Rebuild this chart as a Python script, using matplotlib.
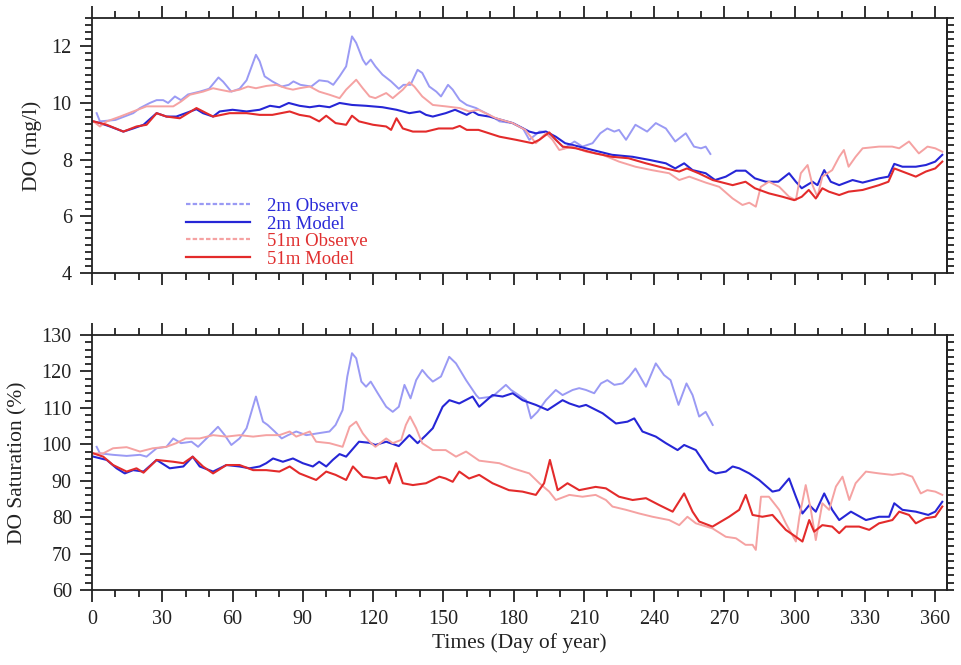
import numpy as np
import matplotlib
matplotlib.use("Agg")
import matplotlib.pyplot as plt
from matplotlib.lines import Line2D
from matplotlib.ticker import MultipleLocator, NullFormatter

plt.rcParams['font.family'] = ['Liberation Serif', 'DejaVu Serif']

# ---------------- DO concentration (mg/l) ----------------
do_obs2_day = [2, 3.4, 10, 17.6, 20.5, 24.7, 27.6, 30.4, 32.5, 35.4, 38, 41, 46, 50, 54, 56,
               59.5, 63, 66, 70, 71.6, 73.7, 77, 81, 84, 86, 89, 93.6, 97, 100.7, 103, 105.7,
               108.5, 111, 112.8, 115.6, 117, 119, 121, 124, 127.7, 131, 133, 136, 139, 141,
               144, 147, 149, 152, 154, 157, 160, 164, 165.3, 169.6, 174, 179.6, 184, 186.7,
               191, 193.8, 198, 201.6, 206, 209.4, 213.7, 217, 220, 223, 225, 228, 232, 237,
               240.7, 245, 249, 253.5, 257, 260, 262, 264]
do_obs2 = [9.64, 9.35, 9.4, 9.64, 9.82, 10.0, 10.1, 10.1, 10.0, 10.23, 10.1, 10.3, 10.4, 10.5,
           10.9, 10.75, 10.4, 10.5, 10.8, 11.7, 11.47, 10.94, 10.76, 10.58, 10.64, 10.76, 10.64,
           10.58, 10.8, 10.76, 10.64, 10.94, 11.29, 12.35, 12.12, 11.53, 11.35, 11.53, 11.29,
           11.0, 10.76, 10.5, 10.64, 10.64, 11.17, 11.06, 10.58, 10.4, 10.23, 10.64, 10.47,
           10.1, 9.93, 9.82, 9.76, 9.58, 9.35, 9.29, 9.1, 8.7, 8.99, 8.99, 8.7, 8.4, 8.64, 8.46,
           8.58, 8.93, 9.1, 8.99, 9.05, 8.7, 9.23, 8.99, 9.29, 9.1, 8.64, 8.93, 8.46, 8.4, 8.46,
           8.2]

do_mod2_day = [0.6, 3.4, 7.7, 13.4, 17.6, 22, 27.6, 31.8, 36, 40, 44.6, 47.4, 51.7, 54.5, 60,
               66, 71.6, 76, 80, 84, 88.6, 93, 97, 101.4, 105.7, 111, 117, 124, 130, 135.5, 140,
               142.6, 145.5, 151, 155, 160, 162.5, 165, 169.6, 179.6, 186.7, 189.5, 193.8, 198,
               202, 208, 213.7, 222, 230.8, 238, 245, 249, 252.8, 256.4, 262, 266, 270.6, 275,
               279, 283, 287.7, 293, 297.6, 300.5, 303, 307.6, 309.7, 312.6, 315.4, 319, 324.7,
               329, 336, 340, 342.5, 346, 351.7, 356, 360, 363]
do_mod2 = [9.35, 9.29, 9.17, 8.99, 9.1, 9.23, 9.64, 9.52, 9.52, 9.64, 9.78, 9.64, 9.52, 9.7,
           9.76, 9.7, 9.76, 9.9, 9.85, 10.0, 9.9, 9.85, 9.9, 9.85, 10.0, 9.93, 9.9, 9.85, 9.76,
           9.64, 9.7, 9.58, 9.52, 9.64, 9.76, 9.58, 9.7, 9.58, 9.52, 9.29, 8.99, 8.93, 8.99,
           8.81, 8.58, 8.46, 8.34, 8.17, 8.1, 7.99, 7.87, 7.69, 7.87, 7.63, 7.52, 7.28, 7.4,
           7.61, 7.61, 7.34, 7.22, 7.22, 7.52, 7.22, 6.99, 7.22, 7.1, 7.63, 7.22, 7.1, 7.28,
           7.19, 7.34, 7.4, 7.85, 7.75, 7.75, 7.81, 7.93, 8.17]

do_obs51_day = [0.6, 3.4, 6.3, 12, 17.6, 23.3, 29, 34.7, 38, 41.8, 47.4, 51.7, 54.5, 58.8, 63,
                66.6, 70, 74.4, 78.7, 83, 85.8, 88.6, 93, 97, 101.4, 105.7, 108.5, 112.8,
                115.6, 118.5, 121, 125.6, 128.4, 132.7, 135.5, 137.6, 141, 145.5, 151, 157, 161,
                165, 172.5, 179.6, 185, 189.5, 193.8, 196.6, 199.5, 205, 211, 218, 225, 232,
                239, 246.4, 250.7, 255, 262, 267.8, 273.5, 277.7, 280.6, 283.4, 285.5, 289,
                293.4, 297.6, 300.5, 302.6, 305.5, 307.6, 309.7, 311.8, 316, 319, 321, 323, 326,
                329, 336, 341.6, 344.6, 348.8, 353, 356.7, 360, 363]
do_obs51 = [9.35, 9.17, 9.35, 9.52, 9.7, 9.88, 9.88, 9.88, 10.05, 10.29, 10.4, 10.52, 10.47,
            10.4, 10.47, 10.58, 10.52, 10.6, 10.64, 10.52, 10.47, 10.52, 10.58, 10.4, 10.29,
            10.17, 10.47, 10.82, 10.52, 10.23, 10.17, 10.35, 10.17, 10.47, 10.73, 10.58, 10.23,
            9.93, 9.88, 9.82, 9.7, 9.76, 9.46, 9.29, 9.05, 8.58, 8.93, 8.7, 8.34, 8.46, 8.28,
            8.17, 7.93, 7.75, 7.63, 7.52, 7.28, 7.4, 7.19, 7.04, 6.63, 6.4, 6.48, 6.34, 7.04,
            7.22, 7.04, 6.69, 6.57, 7.52, 7.81, 7.1, 6.69, 7.4, 7.63, 8.1, 8.34, 7.75, 8.1, 8.4,
            8.46, 8.46, 8.4, 8.64, 8.22, 8.46, 8.4, 8.28]

do_mod51_day = [0.6, 6.3, 13.4, 19, 23.3, 27.6, 31.8, 37.5, 44.6, 51.7, 58.8, 66, 71.6, 77,
                84.4, 88.6, 93, 97, 100, 104, 108.5, 111, 114, 120, 125.6, 127.7, 130, 132.7,
                137, 142.6, 148, 154, 157, 160, 165, 174, 181, 188, 191, 195.2, 198, 201, 206.6,
                215, 222, 229, 236.5, 245, 250.7, 254, 259, 265, 273.5, 279, 283, 289, 294.8,
                299.8, 303, 306, 309, 311.8, 314.6, 319, 323, 329, 336, 340, 342.5, 346, 351.7,
                356, 360, 363]
do_mod51 = [9.35, 9.23, 8.99, 9.17, 9.23, 9.64, 9.52, 9.46, 9.82, 9.52, 9.64, 9.64, 9.58, 9.58,
            9.7, 9.58, 9.52, 9.35, 9.55, 9.29, 9.23, 9.55, 9.35, 9.23, 9.17, 9.05, 9.46, 9.1,
            8.99, 8.99, 9.1, 9.1, 9.19, 9.05, 9.05, 8.81, 8.7, 8.58, 8.7, 8.96, 8.7, 8.46, 8.4,
            8.22, 8.1, 8.05, 7.87, 7.69, 7.58, 7.69, 7.52, 7.28, 7.1, 7.22, 6.99, 6.81, 6.69,
            6.57, 6.69, 6.93, 6.63, 6.99, 6.87, 6.75, 6.87, 6.93, 7.1, 7.22, 7.69, 7.58, 7.4,
            7.58, 7.69, 7.93]

# ---------------- DO saturation (%) ----------------
sat_obs2_day = [2, 3.4, 9, 14.8, 20.5, 23.3, 27.6, 31.8, 34.7, 38, 42.5, 45.3, 48.9, 53.8,
                56.7, 59.5, 63, 66, 70, 73, 75, 78, 81, 83.7, 87.2, 91.5, 96.4, 101.4, 104, 107,
                109, 111, 112.8, 115, 117, 119, 122, 125.6, 128.4, 131, 133.4, 136, 138.4, 141,
                143.3, 145.5, 149, 152.5, 155.4, 159.7, 164, 165.3, 171, 176.7, 178.9, 181,
                185.3, 187.4, 190.2, 193.8, 198, 200.9, 205.2, 208, 210.9, 214.4, 217.3, 220,
                223, 226.5, 229.4, 232, 236.5, 240.7, 244.2, 247, 250.4, 253.8, 256.4, 259.2,
                262, 265]
sat_obs2 = [99.3, 97.5, 97.1, 96.8, 97.1, 96.6, 98.9, 99.3, 101.6, 100.3, 100.7, 99.3, 101.6,
            104.8, 102.5, 99.8, 101.6, 104.4, 113.1, 106.2, 105.3, 103.5, 101.6, 102.5, 103.5,
            102.5, 103.0, 103.5, 105.3, 109.4, 118.6, 125.0, 123.6, 117.2, 115.8, 117.2, 114.0,
            110.3, 108.9, 110.3, 116.3, 112.6, 117.6, 120.4, 118.6, 117.2, 118.6, 124.0, 122.2,
            117.6, 113.5, 112.6, 113.1, 116.3, 114.9, 114.0, 112.1, 107.1, 108.9, 112.1, 114.9,
            113.5, 114.9, 115.4, 114.9, 114.0, 116.7, 117.6, 116.3, 116.7, 118.6, 120.8, 115.8,
            122.2, 119.0, 117.6, 110.8, 116.7, 113.5, 107.6, 108.9, 105.3]

sat_mod2_day = [0.6, 6.3, 10.5, 14, 17.6, 22, 27.6, 33.2, 39, 43, 46, 51.7, 57.4, 63, 67.3,
                71.6, 74.4, 77.3, 81.5, 85.8, 90, 94.3, 97, 100, 102.8, 105.7, 108.5, 114,
                118.5, 121, 125.6, 131, 135.5, 139, 142.6, 145.5, 149.7, 152.6, 156.8, 162.5,
                165.3, 171, 175.3, 179.6, 183.8, 189.5, 194.5, 200.9, 203.8, 208, 210.9, 218,
                223.7, 228.6, 231.5, 235, 240.7, 245, 250, 252.8, 257.8, 263.5, 266.3, 270.6,
                273.5, 276.3, 280.6, 284.8, 290.5, 293.4, 297.6, 300.5, 303.3, 306.2, 309,
                312.6, 316, 319, 324, 330.4, 336, 340.3, 342.5, 346, 351.7, 357, 360, 363]
sat_mod2 = [96.6, 95.7, 93.4, 92.0, 92.9, 92.5, 95.7, 93.4, 93.9, 96.6, 93.9, 92.5, 94.3, 93.9,
            93.4, 93.9, 94.8, 96.1, 95.2, 96.1, 94.8, 93.9, 95.2, 93.9, 95.7, 97.3, 96.6, 100.7,
            100.4, 99.8, 100.7, 99.5, 102.5, 100.3, 102.5, 104.4, 110.3, 112.1, 111.2, 113.1,
            110.3, 113.5, 113.1, 114.0, 112.1, 110.8, 109.4, 112.1, 111.2, 110.3, 110.8, 108.5,
            105.7, 106.2, 107.1, 103.5, 102.1, 100.3, 98.4, 99.8, 98.4, 92.9, 92.0, 92.5, 93.9,
            93.4, 92.0, 90.2, 87.0, 87.4, 90.6, 85.6, 81.0, 83.3, 81.5, 86.5, 82.0, 79.2, 81.5,
            79.2, 80.1, 80.1, 83.8, 82.0, 81.5, 80.6, 81.5, 84.2]

sat_obs51_day = [0.6, 4.8, 9, 14.8, 20.5, 26, 31.8, 36, 40, 46, 51.7, 57.4, 63, 68.8, 74.4, 80,
                 84.4, 87.2, 93, 95.7, 101.4, 107, 110, 112.8, 115.6, 118.5, 121, 125.6, 128.4,
                 132, 134, 135.8, 138.4, 141, 145.5, 151, 155.4, 159.7, 165.3, 173.9, 179.6,
                 186.7, 191, 195.2, 198, 203.8, 209.4, 215, 219.4, 222.2, 228, 233.6, 239.3,
                 246.4, 250.7, 254.2, 257.8, 264.9, 270.6, 274.9, 279, 282, 283.4, 285.6, 289,
                 293.4, 296.2, 300.5, 302, 304.7, 306.9, 309, 311.8, 314.7, 317.6, 320.4, 323.3,
                 326, 330.4, 336, 341.7, 346, 350.2, 353.8, 356.6, 360, 363]
sat_obs51 = [97.5, 97.5, 98.9, 99.2, 98.0, 98.9, 99.3, 100.3, 101.6, 101.6, 102.5, 102.1, 102.5,
             102.1, 102.5, 102.5, 103.5, 102.1, 103.5, 100.7, 100.3, 99.3, 104.8, 106.2, 103.0,
             100.7, 99.3, 101.6, 100.3, 101.2, 105.3, 107.6, 104.4, 100.3, 98.4, 98.4, 96.6,
             98.0, 95.5, 94.8, 93.4, 92.0, 89.3, 87.0, 84.7, 86.1, 85.6, 86.1, 84.7, 82.9, 82.0,
             81.0, 80.1, 79.2, 77.8, 80.1, 78.3, 76.9, 74.6, 74.2, 72.4, 72.4, 71.0, 85.6, 85.6,
             82.0, 78.3, 73.3, 80.1, 88.8, 82.0, 73.7, 83.8, 82.0, 88.4, 91.1, 84.7, 89.3, 92.5,
             92.0, 91.6, 92.0, 91.1, 86.5, 87.4, 87.0, 86.1]

sat_mod51_day = [0.6, 4.8, 9, 14.8, 19, 22, 27.6, 34.7, 39, 43, 47.4, 51.7, 57.4, 63, 68.8,
                 74.4, 80, 84.4, 88.6, 95.7, 100, 104, 108.5, 111.4, 115.6, 121.3, 125.6, 127,
                 129.8, 132.7, 137, 142.6, 148.3, 151, 154, 156.8, 161, 165.3, 171, 178, 183.8,
                 189.5, 193, 195.5, 198.8, 203, 208, 215, 219.4, 225, 230.8, 236.5, 242.2, 247.9,
                 252.8, 256.4, 259.2, 264.9, 272, 276.3, 279.1, 282, 286.2, 290.5, 296.2, 300.5,
                 303.3, 306.2, 308.3, 311.8, 316, 319, 321.8, 327.5, 331.8, 336, 341.7, 344.6,
                 348.8, 351.7, 355.9, 360, 363]
sat_mod51 = [97.5, 96.6, 94.3, 92.5, 93.4, 92.2, 95.7, 95.2, 94.8, 96.6, 93.9, 92.0, 94.3, 94.3,
             92.9, 92.9, 92.5, 93.9, 92.0, 90.2, 92.5, 91.6, 90.2, 93.9, 91.1, 90.6, 91.1, 89.3,
             94.8, 89.3, 88.8, 89.3, 91.1, 90.6, 89.7, 92.5, 90.6, 91.6, 89.3, 87.4, 87.0, 86.1,
             89.3, 95.7, 87.4, 89.3, 87.4, 88.3, 87.9, 85.6, 84.7, 85.2, 83.3, 81.5, 86.5, 81.5,
             78.8, 77.4, 80.1, 82.0, 86.1, 80.6, 80.1, 80.6, 76.5, 74.6, 73.3, 79.2, 76.0, 77.8,
             77.4, 75.6, 77.4, 77.4, 76.5, 78.3, 79.2, 81.5, 80.6, 78.3, 79.7, 80.1, 82.9]

labels = ['2m Observe', '2m Model', '51m Observe', '51m Model']
line_colors = ['#9a9af4', '#2626d6', '#f5a2a2', '#e32b2b']
text_colors = ['#2a2ad8', '#2a2ad8', '#e03030', '#e03030']
is_obs = [True, False, True, False]

ink = '#222222'

fig = plt.figure(figsize=(9.61, 6.65), dpi=100)
ax1 = fig.add_axes([0.0957, 0.5895, 0.8897, 0.3835])
ax2 = fig.add_axes([0.0957, 0.1128, 0.8897, 0.3835])

panels = [
    (ax1, [(do_obs2_day, do_obs2), (do_mod2_day, do_mod2),
           (do_obs51_day, do_obs51), (do_mod51_day, do_mod51)],
     (4, 13), 2, 0.25),
    (ax2, [(sat_obs2_day, sat_obs2), (sat_mod2_day, sat_mod2),
           (sat_obs51_day, sat_obs51), (sat_mod51_day, sat_mod51)],
     (60, 130), 10, 2),
]

for ax, series, ylim, ymaj, ymin in panels:
    for i, (d, v) in enumerate(series):
        ax.plot(d, v, color=line_colors[i], lw=1.4 if is_obs[i] else 1.5,
                solid_joinstyle='round')
    ax.set_xlim(0, 365)
    ax.set_ylim(*ylim)
    ax.xaxis.set_major_locator(MultipleLocator(30))
    ax.xaxis.set_minor_locator(MultipleLocator(10))
    ax.yaxis.set_major_locator(MultipleLocator(ymaj))
    ax.yaxis.set_minor_locator(MultipleLocator(ymin))
    ax.tick_params(axis='x', which='both', direction='out', top=True, bottom=True,
                   colors=ink, width=1.3, labelsize=14.5, pad=6)
    ax.tick_params(axis='x', which='major', length=8.5)
    ax.tick_params(axis='x', which='minor', length=5)
    ax.tick_params(axis='y', which='both', direction='out', left=True, right=False,
                   colors=ink, width=1.3, labelsize=14.5, pad=6)
    ax.tick_params(axis='y', which='major', length=8.5)
    ax.tick_params(axis='y', which='minor', length=5)
    for s in ax.spines.values():
        s.set_color(ink)
        s.set_linewidth(1.3)
    # evenly spaced ticks on the right edge
    sec = ax.secondary_yaxis('right')
    sec.yaxis.set_major_locator(MultipleLocator(ymin))
    sec.yaxis.set_major_formatter(NullFormatter())
    sec.tick_params(axis='y', direction='out', length=5, width=1.3, colors=ink)
    sec.spines['right'].set_color(ink)
    sec.spines['right'].set_linewidth(1.3)

ax1.tick_params(axis='x', labelbottom=False)
ax1.set_yticks([4, 6, 8, 10, 12])

ax1.set_ylabel('DO (mg/l)', fontsize=15.5, color=ink)
ax1.yaxis.set_label_coords(-0.058, 0.5)
ax2.set_ylabel('DO Saturation (%)', fontsize=15.5, color=ink)
ax2.yaxis.set_label_coords(-0.075, 0.5)
ax2.set_xlabel('Times (Day of year)', fontsize=15.5, color=ink)
ax2.xaxis.set_label_coords(0.5, -0.17)

# legend keys: observations shown as fine dashes, model runs as solid lines
handles = [Line2D([], [], color=c, lw=1.6, ls=(0, (2, 1)) if o else '-')
           for c, o in zip(line_colors, is_obs)]
leg = ax1.legend(handles, labels, loc='lower left', bbox_to_anchor=(0.095, -0.03),
                 frameon=False, fontsize=13.5, handlelength=3.4, handletextpad=0.9,
                 labelspacing=0.02, borderpad=0.2)
for txt, c in zip(leg.get_texts(), text_colors):
    txt.set_color(c)

fig.savefig('out.png', dpi=100)
